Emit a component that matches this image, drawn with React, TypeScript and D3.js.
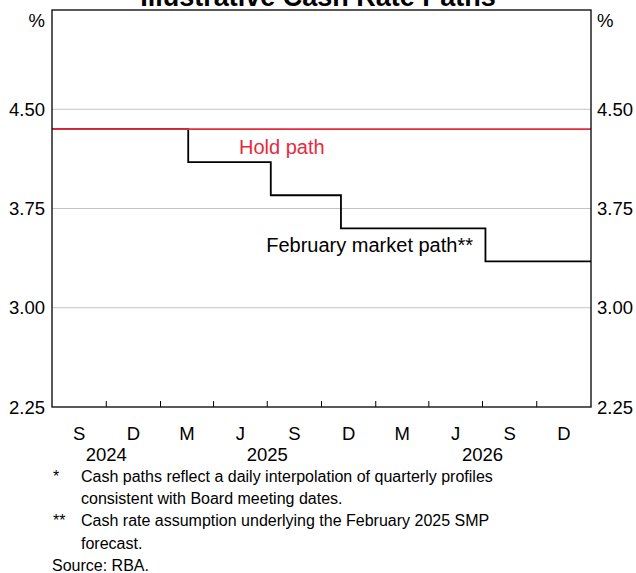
import React from "react";
import * as d3 from "d3";

const W = 636;
const H = 573;
const M = { left: 52, right: 591, top: 10, bottom: 407 };

const xStart = "2024-07-01";
const xEnd = "2027-01-01";
const yTicks = [2.25, 3.0, 3.75, 4.5];
const monthLabels = ["S", "D", "M", "J", "S", "D", "M", "J", "S", "D"];
const yearLabels = ["2024", "2025", "2026"];
const yearCenters = ["2024-10-01", "2025-07-01", "2026-07-01"];

const holdDates = ["2024-07-01", "2027-01-01"];
const holdValues = [4.35, 4.35];

const marketDates = ["2024-07-01", "2025-02-17", "2025-07-07", "2025-11-03", "2026-07-06", "2027-01-01"];
const marketValues = [4.35, 4.1, 3.85, 3.6, 3.35, 3.35];

const footnotes = [
  { mark: "*", lines: ["Cash paths reflect a daily interpolation of quarterly profiles", "consistent with Board meeting dates."] },
  { mark: "**", lines: ["Cash rate assumption underlying the February 2025 SMP", "forecast."] },
];

const parse = d3.utcParse("%Y-%m-%d");
const RED = "#e62a3e";
const FONT = "Arial, 'Liberation Sans', sans-serif";

export default function App() {
  const x = d3.scaleUtc().domain([parse(xStart)!, parse(xEnd)!]).range([M.left, M.right]);
  const y = d3.scaleLinear().domain([2.25, 5.25]).range([M.bottom, M.top]);

  const quarterTicks = d3.utcMonth.every(3)!.range(parse(xStart)!, d3.utcDay.offset(parse(xEnd)!, 1));
  const innerTicks = quarterTicks.slice(1, -1);
  const quarterMids = quarterTicks.slice(0, -1).map((d, i) => new Date((+d + +quarterTicks[i + 1]) / 2));

  const line = d3
    .line<[Date, number]>()
    .x((d) => x(d[0]))
    .y((d) => y(d[1]))
    .curve(d3.curveStepAfter);

  const holdData: [Date, number][] = holdDates.map((d, i) => [parse(d)!, holdValues[i]]);
  const marketData: [Date, number][] = marketDates.map((d, i) => [parse(d)!, marketValues[i]]);

  let fy = 482;
  const fnEls: React.ReactNode[] = [];
  footnotes.forEach((f, fi) => {
    f.lines.forEach((l, li) => {
      if (li === 0)
        fnEls.push(
          <text key={`m${fi}`} x={53} y={fy}>
            {f.mark}
          </text>
        );
      fnEls.push(
        <text key={`t${fi}-${li}`} x={81} y={fy}>
          {l}
        </text>
      );
      fy += 22.2;
    });
  });

  return (
    <svg
      width={W}
      height={H}
      style={{ position: "absolute", left: 0, top: 0, background: "#fff" }}
      fontFamily={FONT}
    >
      <text x={318} y={6} textAnchor="middle" fontWeight="bold" fontSize={27}>
        Illustrative Cash Rate Paths
      </text>

      {/* gridlines */}
      {yTicks
        .filter((t) => t > 2.25)
        .map((t) => (
          <line key={t} x1={M.left} x2={M.right} y1={y(t)} y2={y(t)} stroke="#c4c4c4" strokeWidth={1} />
        ))}

      {/* x ticks */}
      {innerTicks.map((d, i) => (
        <line key={i} x1={x(d)} x2={x(d)} y1={M.bottom} y2={M.bottom - 6} stroke="#000" strokeWidth={1} />
      ))}

      {/* lines */}
      <path d={line(marketData)!} fill="none" stroke="#000" strokeWidth={1.8} />
      <path d={line(holdData)!} fill="none" stroke={RED} strokeWidth={1.6} />

      {/* frame */}
      <rect x={M.left} y={M.top} width={M.right - M.left} height={M.bottom - M.top} fill="none" stroke="#000" strokeWidth={1.3} />

      {/* y labels */}
      <g fontSize={18.5}>
        {yTicks.map((t) => (
          <g key={t}>
            <text x={45} y={y(t)} dy="0.36em" textAnchor="end">
              {t.toFixed(2)}
            </text>
            <text x={597} y={y(t)} dy="0.36em" textAnchor="start">
              {t.toFixed(2)}
            </text>
          </g>
        ))}
        <text x={45} y={27} textAnchor="end">%</text>
        <text x={597} y={27} textAnchor="start">%</text>
      </g>

      {/* x labels */}
      <g fontSize={18.5} textAnchor="middle">
        {quarterMids.map((d, i) => (
          <text key={i} x={x(d)} y={440}>
            {monthLabels[i]}
          </text>
        ))}
        {yearCenters.map((d, i) => (
          <text key={d} x={x(parse(d)!)} y={461}>
            {yearLabels[i]}
          </text>
        ))}
      </g>

      {/* series labels */}
      <text x={239} y={154} fontSize={20} fill={RED}>
        Hold path
      </text>
      <text x={473} y={251.5} fontSize={20} textAnchor="end" fill="#000">
        February market path**
      </text>

      {/* footnotes */}
      <g fontSize={16}>
        {fnEls}
        <text x={52} y={fy}>
          Source: RBA.
        </text>
      </g>
    </svg>
  );
}
